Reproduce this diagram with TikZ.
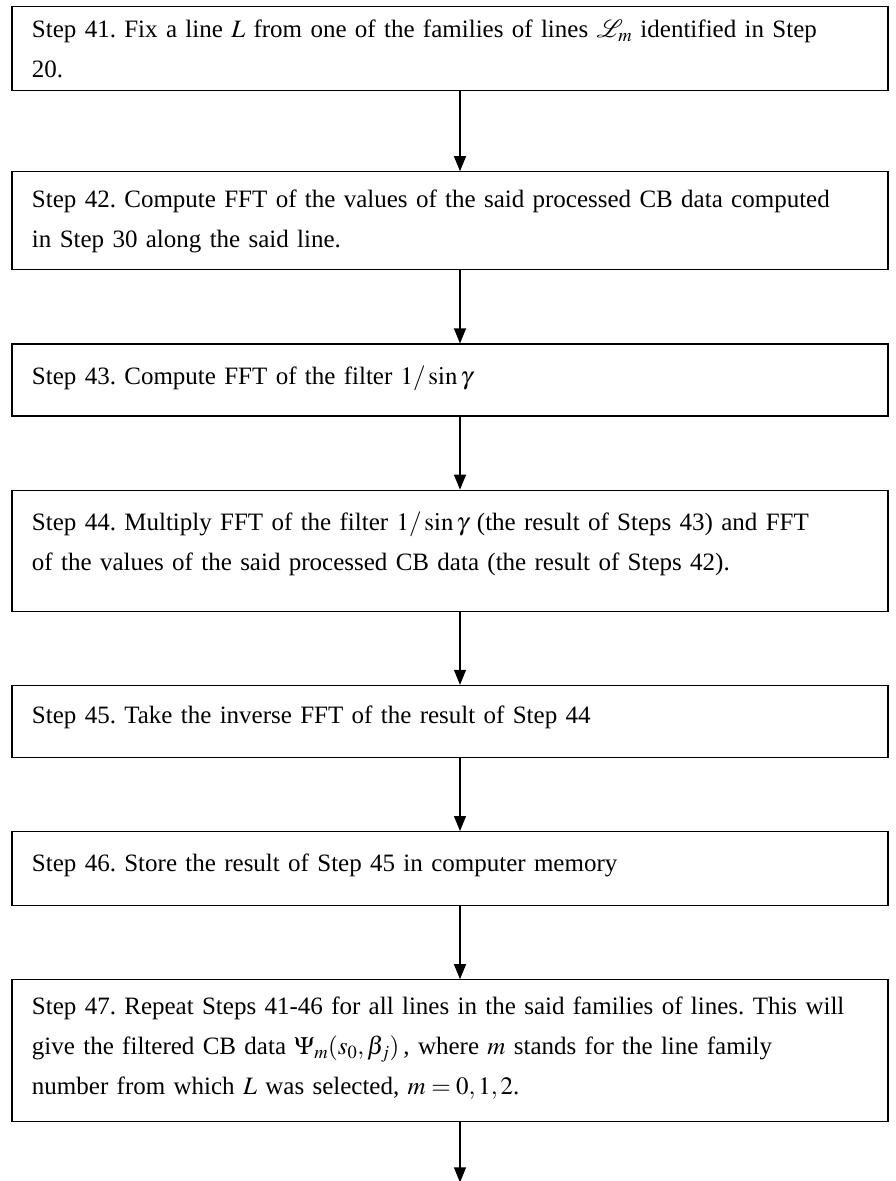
\documentclass[tikz,border=0pt]{standalone}
\usepackage{mathptmx}
\usepackage{mathrsfs}
\usepackage{fontspec}
\setmainfont{Liberation Serif}
\usetikzlibrary{positioning,arrows.meta}

\newcommand{\stepfont}{\fontsize{25}{40}\selectfont\frenchspacing}
\tikzset{
  stepbox/.style={draw, line width=1.2pt, text width=836pt, inner xsep=20pt,
    inner ysep=0pt, align=left, font=\stepfont},
  flow/.style={-{Triangle[length=15pt,width=12pt]}, line width=1.2pt},
}

\begin{document}
\begin{tikzpicture}[node distance=73pt]
    \useasboundingbox (-450pt,6pt) rectangle (445pt,-1175pt);
    % step 41
    \node[stepbox, anchor=north, text height=31pt, text depth=53pt] (s41) at (0,0)
      {Step 41. Fix a line \(L\) from one of the families of lines \(\mathscr{L}_m\) identified in Step\\ 20.};
    % step 42
    \node[stepbox, text height=36pt, text depth=62pt, below = 80pt of s41] (s42)
      {Step 42. Compute FFT of the values of the said processed CB data computed\\ in Step 30 along the said line.};
    % step 43
    \node[stepbox, text height=40pt, text depth=32pt, below = of s42] (s43)
      {Step 43. Compute FFT of the filter \(1/\sin\gamma\)};
    % step 44
    \node[stepbox, text height=40pt, text depth=81pt, below = of s43] (s44)
      {Step 44. Multiply FFT of the filter \(1/\sin\gamma\) (the result of Steps 43) and FFT\\ of the values of the said processed CB data (the result of Steps 42).};
    % step 45
    \node[stepbox, text height=38pt, text depth=34pt, below = of s44] (s45)
      {Step 45. Take the inverse FFT of the result of Step 44};
    % step 46
    \node[stepbox, text height=40pt, text depth=34pt, below = of s45] (s46)
      {Step 46. Store the result of Step 45 in computer memory};
    % step 47
    \node[stepbox, text height=35pt, text depth=107pt, below = of s46] (s47)
      {Step 47. Repeat Steps 41-46 for all lines in the said families of lines. This will\\ give the filtered CB data \(\Psi_m(s_0,\beta_j)\)\,, where \(m\) stands for the line family\\ number from which \(L\) was selected, \(m=0,1,2\).};
    \coordinate[below = 60pt of s47.south] (next);
    % arrows between the steps
    \draw[flow] ([xshift=10pt]s41.south) -- ([xshift=10pt]s42.north);
    \draw[flow] ([xshift=10pt]s42.south) -- ([xshift=10pt]s43.north);
    \draw[flow] ([xshift=10pt]s43.south) -- ([xshift=10pt]s44.north);
    \draw[flow] ([xshift=10pt]s44.south) -- ([xshift=10pt]s45.north);
    \draw[flow] ([xshift=10pt]s45.south) -- ([xshift=10pt]s46.north);
    \draw[flow] ([xshift=10pt]s46.south) -- ([xshift=10pt]s47.north);
    \draw[flow] ([xshift=10pt]s47.south) -- ([xshift=10pt]next);
\end{tikzpicture}
\end{document}
